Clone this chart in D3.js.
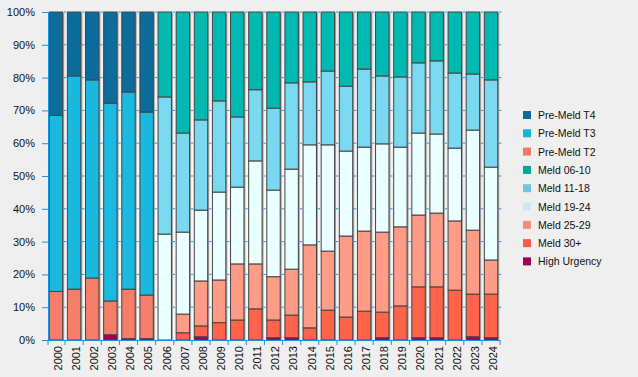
<!DOCTYPE html>
<html>
<head>
<meta charset="utf-8">
<script src="https://cdn.jsdelivr.net/npm/d3@7"></script>
<style>
  body { margin: 0; background: #efefef; }
  svg { display: block; font-family: "Liberation Sans", Arial, sans-serif; }
</style>
</head>
<body>
<div id="chart"></div>
<script>
// Dữ liệu (phần trăm mỗi năm)
const years = ["2000","2001","2002","2003","2004","2005","2006","2007","2008","2009","2010","2011","2012",
  "2013","2014","2015","2016","2017","2018","2019","2020","2021","2022","2023","2024"];

const seriesNames = ["Pre-Meld T4","Pre-Meld T3","Pre-Meld T2","Meld 06-10","Meld 11-18","Meld 19-24","Meld 25-29","Meld 30+","High Urgency"];

const preMeldT4 = [31.5,19.5,20.7,27.8,24.4,30.5,0,0,0,0,0,0,0,0,0,0,0,0,0,0,0,0,0,0,0];
const preMeldT3 = [53.7,65.0,60.4,60.3,60.1,55.8,0,0,0,0,0,0,0,0,0,0,0,0,0,0,0,0,0,0,0];
const preMeldT2 = [14.8,15.5,18.9,10.3,15.1,13.3,0,0,0,0,0,0,0,0,0,0,0,0,0,0,0,0,0,0,0];
const meld0610 = [0,0,0,0,0,0,25.9,36.9,32.9,27.1,32.0,23.7,29.3,21.6,21.3,18.0,22.6,17.4,19.5,19.8,15.5,14.9,18.6,18.9,20.7];
const meld1118 = [0,0,0,0,0,0,41.8,30.2,27.5,27.8,21.4,21.7,25.0,26.3,19.2,22.5,19.8,23.8,20.7,21.4,21.4,22.3,22.9,17.1,26.6];
const meld1924 = [0,0,0,0,0,0,32.3,25.0,21.6,26.8,23.4,31.4,26.4,30.5,30.5,32.4,25.9,25.6,26.9,24.3,25.0,24.1,22.2,30.5,28.3];
const meld2529 = [0,0,0,0,0,0,0,5.7,13.7,13.0,17.1,13.7,13.2,14.0,25.3,18.0,24.7,24.4,24.4,24.1,21.9,22.5,21.1,19.5,10.4];
const meld30 = [0,0,0,0,0,0,0,2.2,3.3,5.3,6.1,9.5,5.4,6.9,3.7,9.1,7.0,8.8,7.8,10.4,15.5,15.5,15.2,13.0,13.3];
const highUrgency = [0,0,0,1.6,0.4,0.4,0,0,1.0,0,0,0,0.7,0.7,0,0,0,0,0.7,0,0.7,0.7,0,1.0,0.7];

const yTicks = [0,10,20,30,40,50,60,70,80,90,100];

const barColors = ["#0c6c9c","#1ab9e0","#f67e68","#00b9b0","#7ad8f0","#eaffff","#ff9c88","#ff6349","#a0004c"];
const legendColors = ["#0b6a98","#17b3da","#f47a66","#00a89c","#72c4da","#cce8f8","#f48c7c","#f45c48","#a00058"];

const allSeries = [preMeldT4, preMeldT3, preMeldT2, meld0610, meld1118, meld1924, meld2529, meld30, highUrgency];

const width = 638, height = 377;
const plot = { left: 48, right: 499, top: 12, bottom: 340 };
const axisBlue = "#1a90e0";

const rows = years.map((yr, i) => {
    const r = { year: yr };
    seriesNames.forEach((s, k) => r[s] = allSeries[k][i]);
    return r;
});

// xếp chồng từ dưới lên: High Urgency ... Pre-Meld T4
const stackKeys = seriesNames.slice().reverse();
const stacked = d3.stack().keys(stackKeys).offset(d3.stackOffsetExpand)(rows);

const color = d3.scaleOrdinal().domain(seriesNames).range(barColors);

const svg = d3.select("#chart").append("svg")
    .attr("width", width)
    .attr("height", height);

const defs = svg.append("defs");
const grad = defs.append("radialGradient").attr("id", "bg")
    .attr("cx", "40%").attr("cy", "65%").attr("r", "75%");
grad.append("stop").attr("offset", "0%").attr("stop-color", "#fcfcfc");
grad.append("stop").attr("offset", "100%").attr("stop-color", "#ebebeb");

svg.append("rect")
    .attr("x", plot.left).attr("y", plot.top)
    .attr("width", plot.right - plot.left).attr("height", plot.bottom - plot.top)
    .attr("fill", "url(#bg)");

const x = d3.scaleBand()
    .domain(years)
    .range([plot.left, plot.right])
    .paddingInner(0.26)
    .paddingOuter(0.07);

const y = d3.scaleLinear()
    .domain([0, 1])
    .range([plot.bottom, plot.top]);

const bw = x.bandwidth();
const gapW = x.step() - bw;

// lưới: các vạch ngắn trong khe giữa các cột
const grid = svg.append("g");
yTicks.slice(1).forEach(t => {
    grid.selectAll(null)
        .data(years)
        .enter()
        .append("line")
        .attr("x1", d => x(d) + bw + 1.2)
        .attr("x2", d => x(d) + bw + 3.6)
        .attr("y1", y(t / 100))
        .attr("y2", y(t / 100))
        .attr("stroke", axisBlue)
        .attr("stroke-width", 1);
});

// bóng đổ của cột
svg.append("g").selectAll("rect")
    .data(years)
    .enter()
    .append("rect")
    .attr("x", d => x(d) + 1.5)
    .attr("y", plot.top + 1)
    .attr("width", bw)
    .attr("height", plot.bottom - plot.top - 1)
    .attr("fill", "#a4a4a4");

const layers = svg.append("g").selectAll("g")
    .data(stacked)
    .enter()
    .append("g")
    .attr("fill", d => color(d.key));

layers.selectAll("rect")
    .data(d => d)
    .enter()
    .append("rect")
    .attr("x", d => x(d.data.year))
    .attr("y", d => y(d[1]))
    .attr("width", bw)
    .attr("height", d => y(d[0]) - y(d[1]))
    .attr("stroke", "#444")
    .attr("stroke-width", 1);

// trục Y
const yAxis = svg.append("g")
    .attr("transform", `translate(${plot.left},0)`)
    .call(d3.axisLeft(y).tickValues(yTicks.map(t => t / 100)).tickFormat(d => `${Math.round(d * 100)}%`)
        .tickSize(6).tickSizeOuter(0).tickPadding(7));
yAxis.select(".domain").attr("stroke", axisBlue);
yAxis.selectAll(".tick line").attr("stroke", axisBlue);
yAxis.selectAll("text").style("font-size", "11px").attr("fill", "#111");

// trục X
const xAxis = svg.append("g")
    .attr("transform", `translate(0,${plot.bottom})`)
    .call(d3.axisBottom(x).tickSize(0).tickSizeOuter(0));
xAxis.select(".domain").attr("stroke", axisBlue).attr("d", `M${plot.left},0.5H${plot.right + 1}`);
xAxis.selectAll("text")
    .style("font-size", "11px")
    .attr("fill", "#111")
    .attr("transform", "rotate(-90)")
    .attr("x", -6)
    .attr("y", 2)
    .attr("dy", "0.35em")
    .style("text-anchor", "end");

// vạch chia giữa các cột
xAxis.append("g").selectAll("line")
    .data(years)
    .enter()
    .append("line")
    .attr("x1", d => x(d) + bw + gapW / 2)
    .attr("x2", d => x(d) + bw + gapW / 2)
    .attr("y1", 0)
    .attr("y2", 5)
    .attr("stroke", axisBlue);
xAxis.append("line")
    .attr("x1", plot.left).attr("x2", plot.left)
    .attr("y1", 0).attr("y2", 5)
    .attr("stroke", axisBlue);

// chú giải
const legend = svg.append("g")
    .attr("transform", "translate(523,111)");
const item = legend.selectAll("g")
    .data(seriesNames)
    .enter()
    .append("g")
    .attr("transform", (d, i) => `translate(0,${i * 18.3})`);
item.append("rect")
    .attr("width", 8)
    .attr("height", 8)
    .attr("fill", (d, i) => legendColors[i]);
item.append("text")
    .attr("x", 15)
    .attr("y", 8)
    .style("font-size", "10.5px")
    .attr("fill", "#111")
    .text(d => d);
</script>
</body>
</html>
